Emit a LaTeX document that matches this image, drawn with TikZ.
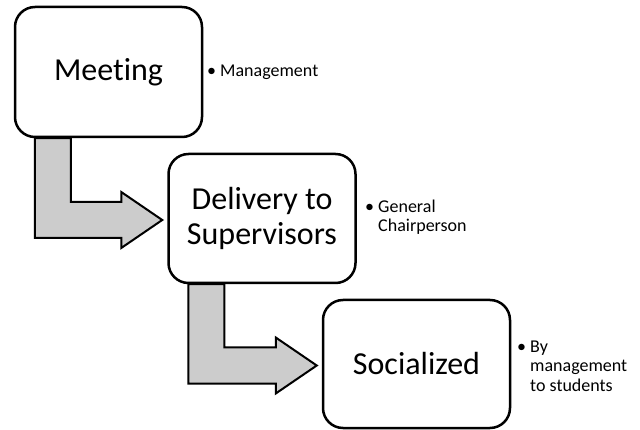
\documentclass[tikz,border=0pt]{standalone}
\usepackage{fontspec}
\setmainfont{Carlito}[Ligatures={NoCommon}]
\usetikzlibrary{calc}
\pgfdeclarelayer{background}
\pgfsetlayers{background,main}

\tikzset{
  stepbox/.style={draw=black, line width=2.5pt, rounded corners=20pt, fill=white,
    minimum width=187pt, minimum height=130pt, inner sep=0pt, align=center,
    font=\fontsize{32}{35}\selectfont},
  note/.style={anchor=west, inner sep=0pt, align=left,
    font=\fontsize{18}{19.5}\selectfont},
  bent/.style={draw=black, line width=2pt, fill=black!20, line join=miter}
}

% Bent block arrow from the bottom of box #1 to the left side of box #2
\newcommand\bentarrow[2]{%
  \coordinate (#1-a) at ($(#1.south west)+(21,0)$);
  \coordinate (#1-b) at ($(#1-a)+(36,0)$);
  \coordinate (#1-tip) at ($(#2.west)+(-5,1.5)$);
  \coordinate (#1-lo) at ($(#1-tip)+(0,18)$);
  \coordinate (#1-hi) at ($(#1-tip)+(0,-18)$);
  \coordinate (#1-hb) at ($(#1-tip)+(-41,0)$);
  \path[bent] (#1-a) -- (#1-a |- #1-lo) -- (#1-hb |- #1-lo) -- ($(#1-hb)+(0,28)$)
    -- (#1-tip) -- ($(#1-hb)+(0,-28)$) -- (#1-hb |- #1-hi) -- (#1-b |- #1-hi)
    -- (#1-b) -- cycle;
}

\begin{document}
\begin{tikzpicture}[x=1pt, y=-1pt]
  \useasboundingbox (0,0) rectangle (640,430);

  % process steps
  \node[stepbox] (meet) at (108.5,72) {Meeting};
  \node[stepbox, minimum height=129pt] (deliv) at (262,218.5) {Delivery to\\Supervisors};
  \node[stepbox, minimum height=128pt] (soc) at (416.5,364) {Socialized};

  % arrows lie beneath the boxes
  \begin{pgfonlayer}{background}
    \bentarrow{meet}{deliv}
    \bentarrow{deliv}{soc}
  \end{pgfonlayer}

  % side notes
  \node[note] (n1) at (207,72) {\textbullet\ Management};
  \node[note] (n2) at (365,217) {\textbullet\ General\\\phantom{\textbullet\ }Chairperson};
  \node[note] (n3) at (517,366) {\textbullet\ By\\\phantom{\textbullet\ }management\\\phantom{\textbullet\ }to students};
\end{tikzpicture}
\end{document}
